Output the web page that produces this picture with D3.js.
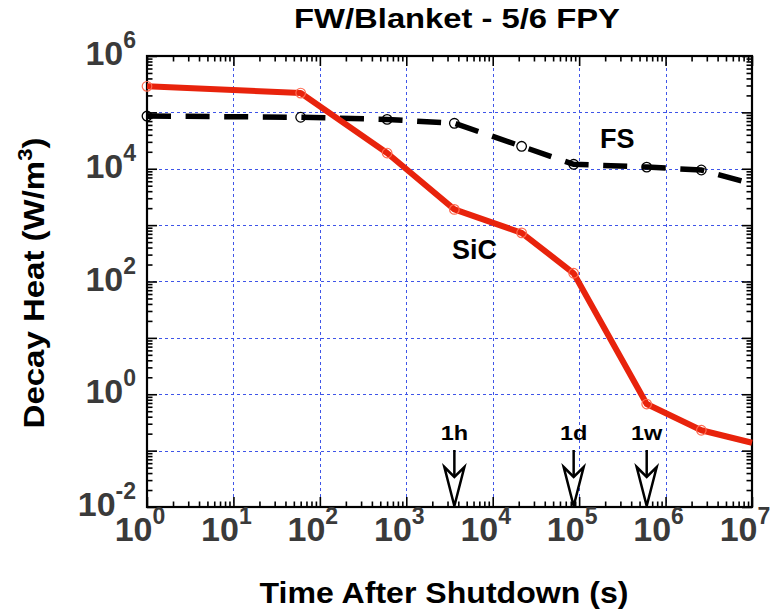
<!DOCTYPE html>
<html>
<head>
<meta charset="utf-8">
<script src="https://cdn.jsdelivr.net/npm/d3@7/dist/d3.min.js"></script>
<style>
  html, body { margin: 0; padding: 0; background: #fff; }
  svg { display: block; }
  text { font-family: "Liberation Sans", Arial, Helvetica, sans-serif; font-weight: bold; }
</style>
</head>
<body>
<svg id="chart" width="771" height="615"></svg>
<script>
// Time after shutdown (s): 1 s, 1 min, 10 min, 1 h, 6 h, 1 d, 1 w, 30 d, 10^7 s
const times = [1, 60, 600, 3600, 21600, 86400, 604800, 2592000, 1e7];
// Decay heat (W/m^3)
const sicHeat = [2.9e5, 2.2e5, 1.9e4, 1.9e3, 7.3e2, 1.4e2, 0.67, 0.23, 0.138];
const fsHeat  = [8.6e4, 8.2e4, 7.5e4, 6.4e4, 2.5e4, 1.2e4, 1.07e4, 9.5e3, 5.4e3];

const xDecades = [0, 1, 2, 3, 4, 5, 6, 7];
const yDecades = [-2, 0, 2, 4, 6];
const yGridDecades = [-2, -1, 0, 1, 2, 3, 4, 5, 6];

const marks = [
  { label: "1h", t: 3600 },
  { label: "1d", t: 86400 },
  { label: "1w", t: 604800 }
];

const m = { left: 147, right: 752, top: 56, bottom: 507 };
const pw = m.right - m.left, ph = m.bottom - m.top;

const svg = d3.select("#chart");

const x = d3.scaleLog().domain([1, 1e7]).range([m.left, m.right]);
const y = d3.scaleLog().domain([1e-2, 1e6]).range([m.bottom, m.top]);

// minor tick values: 2..9 within each decade
function minors(lo, hi) {
  const out = [];
  for (let e = lo; e < hi; e++) for (let k = 2; k <= 9; k++) out.push(k * Math.pow(10, e));
  return out;
}
const xMajor = d3.range(0, 8).map(e => Math.pow(10, e));
const yMajor = yGridDecades.map(e => Math.pow(10, e));
const xMinor = minors(0, 7);
const yMinor = minors(-2, 6);

// dotted grid at every decade
const grid = svg.append("g").attr("stroke", "#3f55e8").attr("stroke-width", 1)
  .attr("stroke-dasharray", "3,3");
grid.selectAll(".gx").data(xMajor.slice(1, -1)).join("line")
  .attr("x1", d => Math.round(x(d)) + 0.5).attr("x2", d => Math.round(x(d)) + 0.5)
  .attr("y1", m.top).attr("y2", m.bottom);
grid.selectAll(".gy").data(yMajor.slice(1, -1)).join("line")
  .attr("y1", d => Math.round(y(d)) + 0.5).attr("y2", d => Math.round(y(d)) + 0.5)
  .attr("x1", m.left).attr("x2", m.right);

// axes with inward ticks on all four sides
function drawAxis(gen, scale, vals, size, tx, ty) {
  const g = svg.append("g").attr("transform", `translate(${tx},${ty})`)
    .call(gen(scale).tickValues(vals).tickSize(-size).tickFormat(""));
  g.select(".domain").remove();
  g.selectAll(".tick line").attr("stroke", "#000").attr("stroke-width", 1.6);
}
drawAxis(d3.axisBottom, x, xMajor, 10, 0, m.bottom);
drawAxis(d3.axisBottom, x, xMinor, 5.5, 0, m.bottom);
drawAxis(d3.axisTop, x, xMajor, 10, 0, m.top);
drawAxis(d3.axisTop, x, xMinor, 5.5, 0, m.top);
drawAxis(d3.axisLeft, y, yMajor, 10, m.left, 0);
drawAxis(d3.axisLeft, y, yMinor, 5.5, m.left, 0);
drawAxis(d3.axisRight, y, yMajor, 10, m.right, 0);
drawAxis(d3.axisRight, y, yMinor, 5.5, m.right, 0);

// frame
svg.append("rect").attr("x", m.left).attr("y", m.top).attr("width", pw).attr("height", ph)
  .attr("fill", "none").attr("stroke", "#000").attr("stroke-width", 2.2);

// tick labels as 10^n
const tickColor = "#3a3a3a";
function powLabel(sel, e) {
  sel.append("tspan").text("10");
  sel.append("tspan").attr("dy", -17).attr("font-size", 23).text(e);
}
svg.append("g").selectAll("text").data(xDecades).join("text")
  .attr("x", d => x(Math.pow(10, d)) - 7).attr("y", 541)
  .attr("text-anchor", "middle").attr("font-size", 34).attr("fill", tickColor)
  .each(function (d) { powLabel(d3.select(this), d); });
svg.append("g").selectAll("text").data(yDecades).join("text")
  .attr("x", 136).attr("y", d => y(Math.pow(10, d)) + 9)
  .attr("text-anchor", "end").attr("font-size", 34).attr("fill", tickColor)
  .each(function (d) { powLabel(d3.select(this), d); });

// series
const line = d3.line().x(d => x(d[0])).y(d => y(d[1]));
const fsPts = times.map((t, i) => [t, fsHeat[i]]);
const sicPts = times.map((t, i) => [t, sicHeat[i]]);
const plot = svg.append("g");

plot.append("path").datum(fsPts).attr("d", line)
  .attr("fill", "none").attr("stroke", "#000").attr("stroke-width", 5.5)
  .attr("stroke-dasharray", "24,14.6");
plot.append("g").selectAll("circle").data(fsPts.filter(d => d[0] < 1e7)).join("circle")
  .attr("cx", d => x(d[0])).attr("cy", d => y(d[1])).attr("r", 4.8)
  .attr("fill", "none").attr("stroke", "#000").attr("stroke-width", 1.3);

plot.append("path").datum(sicPts).attr("d", line)
  .attr("fill", "none").attr("stroke", "#e8230c").attr("stroke-width", 6)
  .attr("stroke-linejoin", "round");
plot.append("g").selectAll("circle").data(sicPts.filter(d => d[0] < 1e7)).join("circle")
  .attr("cx", d => x(d[0])).attr("cy", d => y(d[1])).attr("r", 4.8)
  .attr("fill", "none").attr("stroke", "#ff6a50").attr("stroke-width", 1.2);

// series labels
svg.append("text").attr("x", 600).attr("y", 148).attr("font-size", 27).text("FS");
svg.append("text").attr("x", 452).attr("y", 259).attr("font-size", 27).text("SiC");

// time markers: open arrows pointing down to the axis
const arrows = svg.append("g");
marks.forEach(mk => {
  const cx = x(mk.t);
  arrows.append("text").attr("x", cx).attr("y", 440).attr("text-anchor", "middle")
    .attr("font-size", 21).attr("transform", `translate(${cx},0) scale(1.12,1) translate(${-cx},0)`)
    .text(mk.label);
  arrows.append("line").attr("x1", cx).attr("x2", cx).attr("y1", 450).attr("y2", 478)
    .attr("stroke", "#000").attr("stroke-width", 2.5);
  arrows.append("path")
    .attr("d", `M${cx - 10},${467} L${cx},${477} L${cx + 10},${467} L${cx},${506} Z`)
    .attr("fill", "#fff").attr("stroke", "#000").attr("stroke-width", 2.5)
    .attr("stroke-linejoin", "miter");
});

// titles
svg.append("text").attr("transform", "translate(457,28) scale(1.17,1)")
  .attr("text-anchor", "middle").attr("font-size", 28).text("FW/Blanket - 5/6 FPY");
svg.append("text").attr("transform", "translate(444,603) scale(1.07,1)")
  .attr("text-anchor", "middle").attr("font-size", 30).text("Time After Shutdown (s)");
const yl = svg.append("text").attr("transform", "translate(44,283) rotate(-90) scale(1.1,1)")
  .attr("text-anchor", "middle").attr("font-size", 30);
yl.append("tspan").text("Decay Heat (W/m");
yl.append("tspan").attr("dy", -12).attr("font-size", 20).text("3");
yl.append("tspan").attr("dy", 12).text(")");
</script>
</body>
</html>
